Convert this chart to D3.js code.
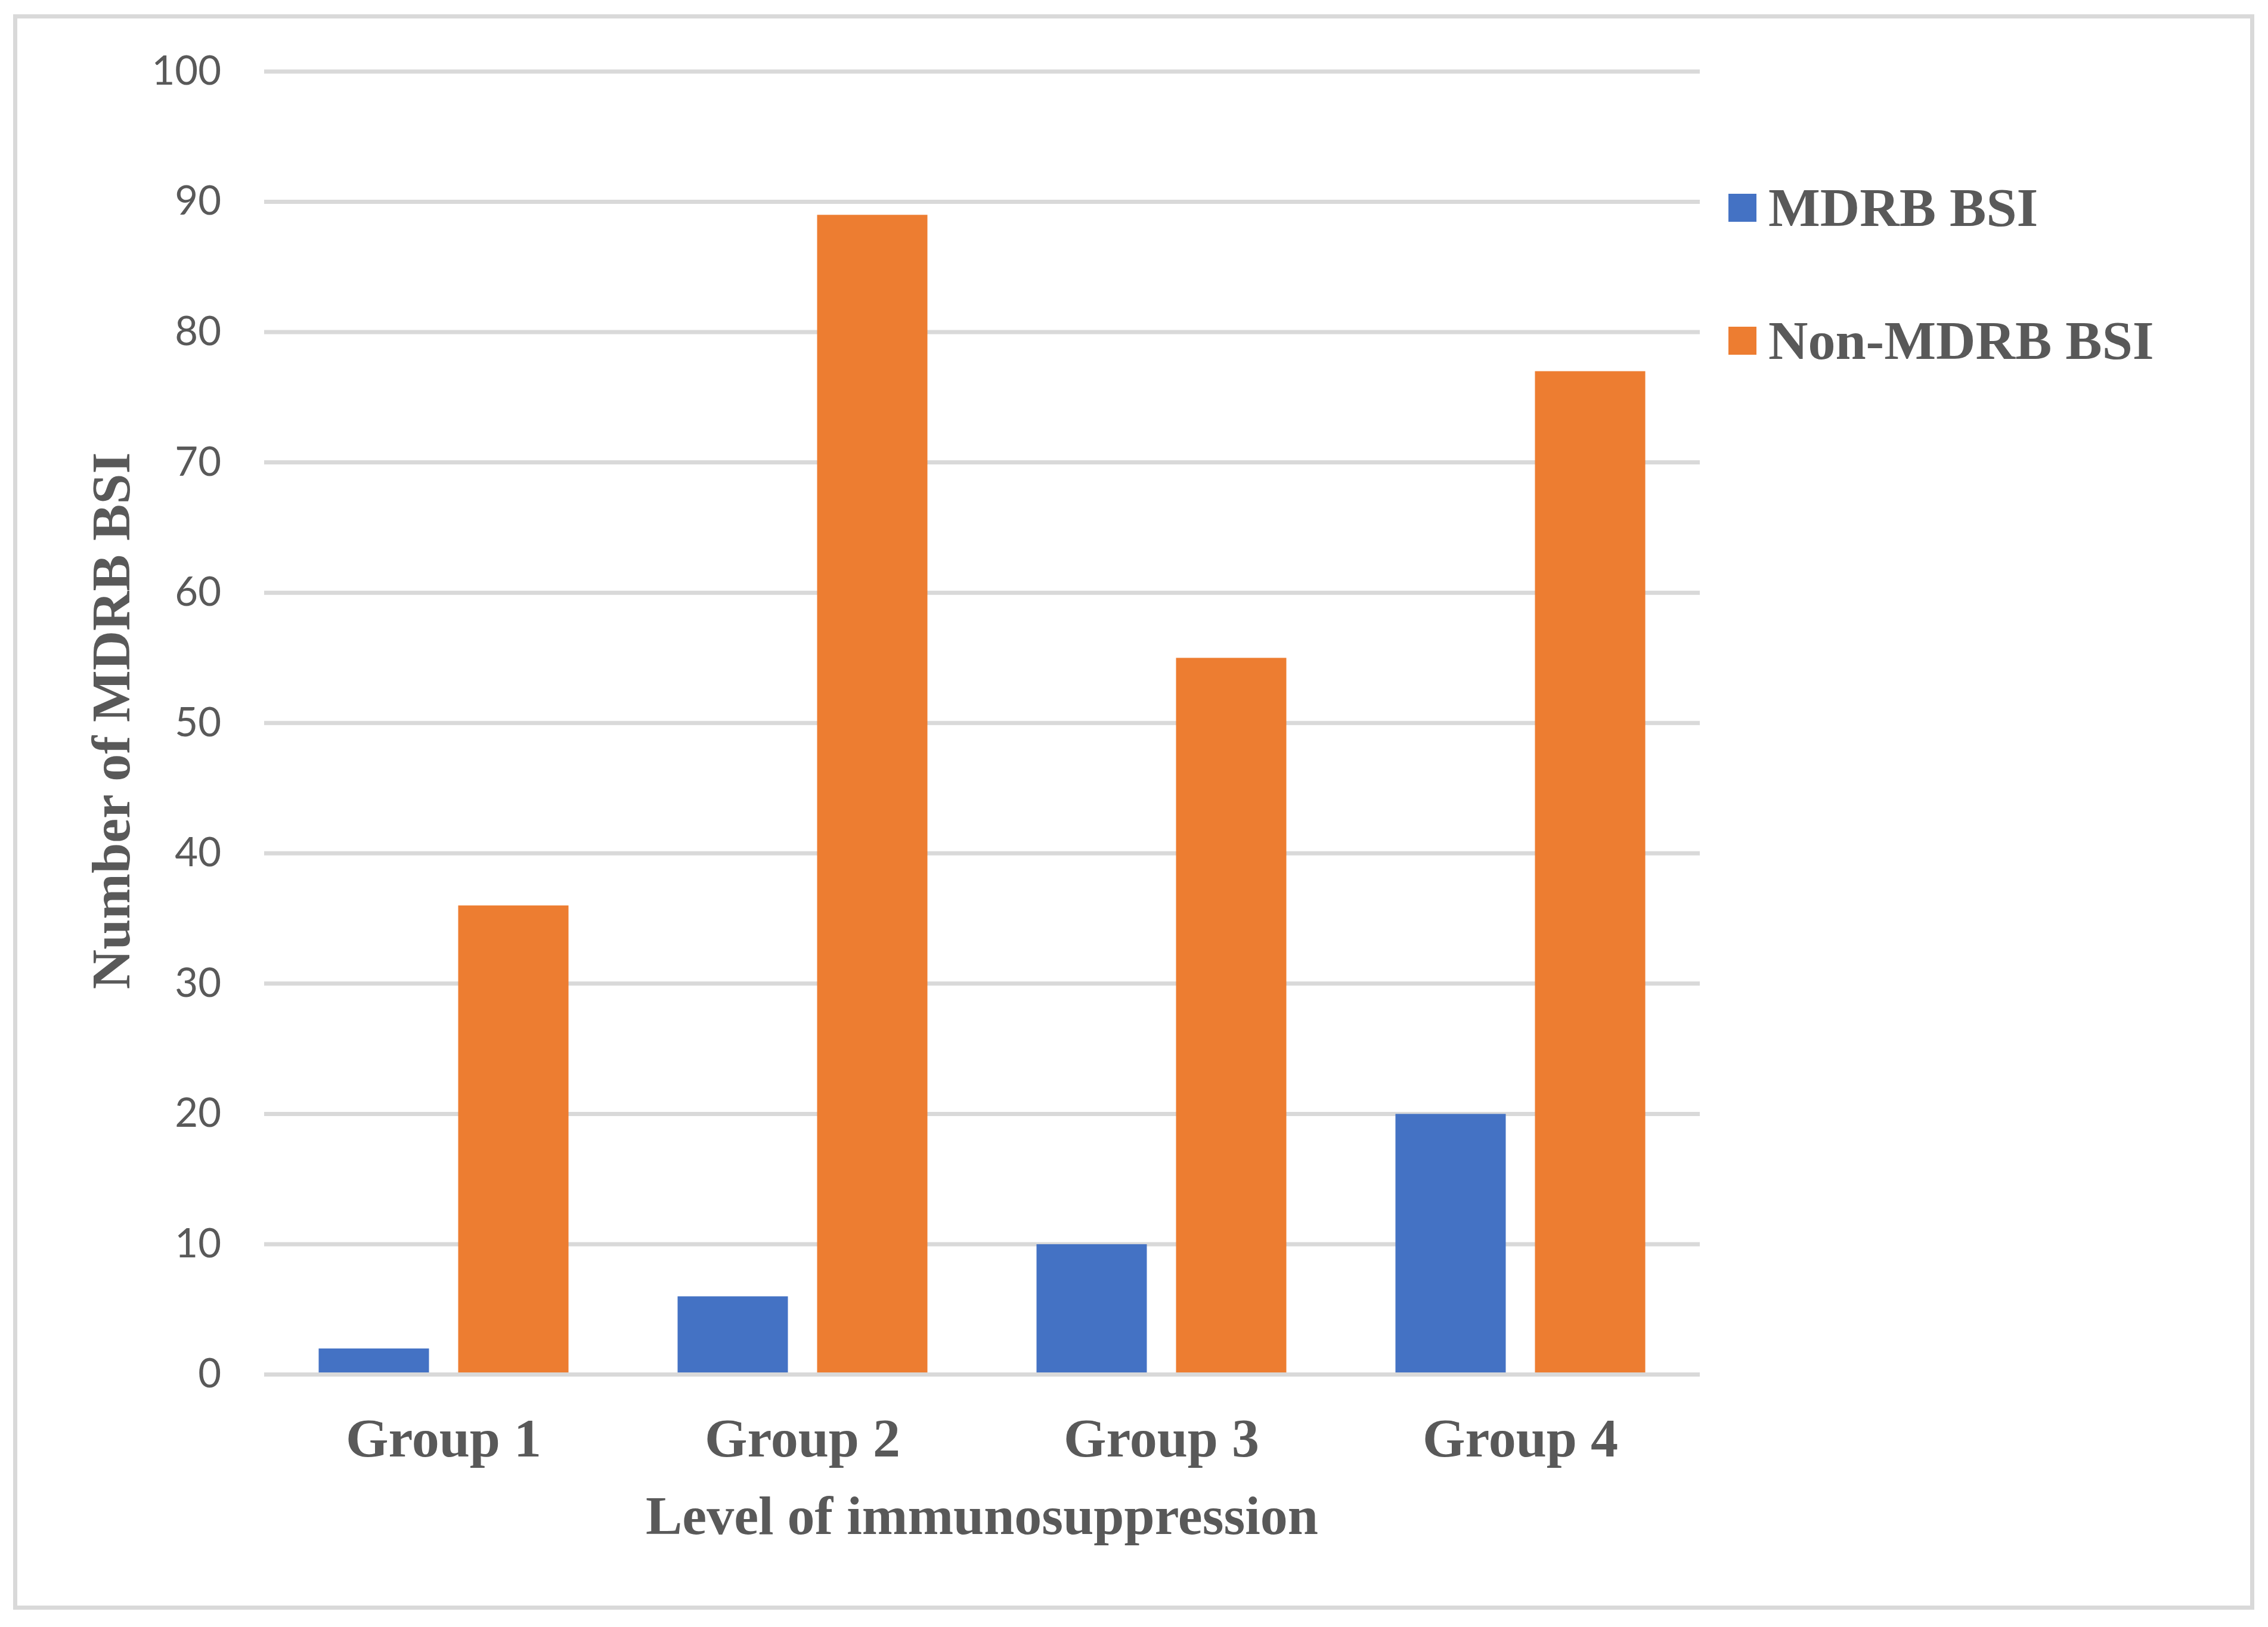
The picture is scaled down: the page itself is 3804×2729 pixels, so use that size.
<!DOCTYPE html>
<html>
<head>
<meta charset="utf-8">
<script src="https://cdnjs.cloudflare.com/ajax/libs/d3/7.8.5/d3.min.js"></script>
<style>
  html, body { margin: 0; padding: 0; background: #ffffff; }
  svg { display: block; }
</style>
</head>
<body>
<script>
// ---- data ----
const categories = ["Group 1", "Group 2", "Group 3", "Group 4"];
const seriesNames = ["MDRB BSI", "Non-MDRB BSI"];
const mdrbValues = [2, 6, 10, 20];
const nonMdrbValues = [36, 89, 55, 77];
const yTicks = [0, 10, 20, 30, 40, 50, 60, 70, 80, 90, 100];
const xTitle = "Level of immunosuppression";
const yTitle = "Number of MDRB BSI";
const colors = ["#4472c4", "#ed7d31"];

// ---- layout ----
const W = 3804, H = 2729;
const plotLeft = 443, plotRight = 2851;
const yBottom = 2305.5, yTop = 119.9;
const textColor = "#595959";
const gridColor = "#d9d9d9";
const serif = "'Liberation Serif', 'Times New Roman', serif";
const sans = "Lato, 'Open Sans', sans-serif";

const svg = d3.select("body").append("svg")
  .attr("width", W).attr("height", H);

svg.append("rect").attr("width", W).attr("height", H).attr("fill", "#ffffff");

// outer border
svg.append("rect")
  .attr("x", 25.5).attr("y", 27.5)
  .attr("width", 3777.5 - 25.5).attr("height", 2696.5 - 27.5)
  .attr("fill", "none").attr("stroke", gridColor).attr("stroke-width", 7);

const y = d3.scaleLinear().domain([0, 100]).range([yBottom, yTop]);
const x0 = d3.scaleBand().domain(categories).range([plotLeft, plotRight]).paddingInner(0).paddingOuter(0);
const x1 = d3.scaleBand().domain(seriesNames).range([0, x0.bandwidth()]).paddingInner(0.2094).paddingOuter(0.391);

// gridlines (behind bars)
svg.append("g").selectAll("line")
  .data(yTicks.filter(d => d !== 0))
  .join("line")
  .attr("x1", plotLeft).attr("x2", plotRight)
  .attr("y1", d => y(d)).attr("y2", d => y(d))
  .attr("stroke", gridColor).attr("stroke-width", 7);

// bars
const rows = categories.map((c, i) => ({ cat: c, vals: [mdrbValues[i], nonMdrbValues[i]] }));
const grp = svg.append("g").selectAll("g")
  .data(rows).join("g")
  .attr("transform", d => `translate(${x0(d.cat)},0)`);
grp.selectAll("rect")
  .data(d => d.vals.map((v, j) => ({ s: seriesNames[j], v, j })))
  .join("rect")
  .attr("x", d => x1(d.s))
  .attr("width", x1.bandwidth())
  .attr("y", d => y(d.v))
  .attr("height", d => y(0) - y(d.v))
  .attr("fill", d => colors[d.j]);

// baseline (axis line on top)
svg.append("line")
  .attr("x1", plotLeft).attr("x2", plotRight)
  .attr("y1", y(0)).attr("y2", y(0))
  .attr("stroke", gridColor).attr("stroke-width", 7);

// y axis labels
const yAxis = d3.axisLeft(y).tickValues(yTicks).tickSize(0).tickPadding(0).tickFormat(d3.format("d"));
const yg = svg.append("g").attr("transform", "translate(371,0)").call(yAxis);
yg.select(".domain").remove();
yg.selectAll("text")
  .attr("font-family", sans).attr("font-size", 67)
  .attr("fill", textColor).attr("dy", "0.32em");

// x axis labels
const xAxis = d3.axisBottom(x0).tickSize(0).tickPadding(0);
const xg = svg.append("g").attr("transform", "translate(0,2443)").call(xAxis);
xg.select(".domain").remove();
xg.selectAll("text")
  .attr("font-family", serif).attr("font-size", 92).attr("font-weight", "bold")
  .attr("fill", textColor).attr("dy", 0).attr("y", 0);

// axis titles
svg.append("text")
  .attr("x", (plotLeft + plotRight) / 2).attr("y", 2573)
  .attr("text-anchor", "middle")
  .attr("font-family", serif).attr("font-size", 92).attr("font-weight", "bold")
  .attr("fill", textColor).text(xTitle);

svg.append("text")
  .attr("transform", "translate(217,1209) rotate(-90)")
  .attr("text-anchor", "middle")
  .attr("font-family", serif).attr("font-size", 92).attr("font-weight", "bold")
  .attr("fill", textColor).text(yTitle);

// legend
const legendY = [348.5, 571.5];
const lg = svg.append("g").selectAll("g")
  .data(seriesNames).join("g");
lg.append("rect")
  .attr("x", 2899).attr("y", (d, i) => legendY[i] - 23.5)
  .attr("width", 47).attr("height", 47)
  .attr("fill", (d, i) => colors[i]);
lg.append("text")
  .attr("x", 2966).attr("y", (d, i) => legendY[i] + 30)
  .attr("font-family", serif).attr("font-size", 92).attr("font-weight", "bold")
  .attr("fill", textColor).text(d => d);
</script>
</body>
</html>
